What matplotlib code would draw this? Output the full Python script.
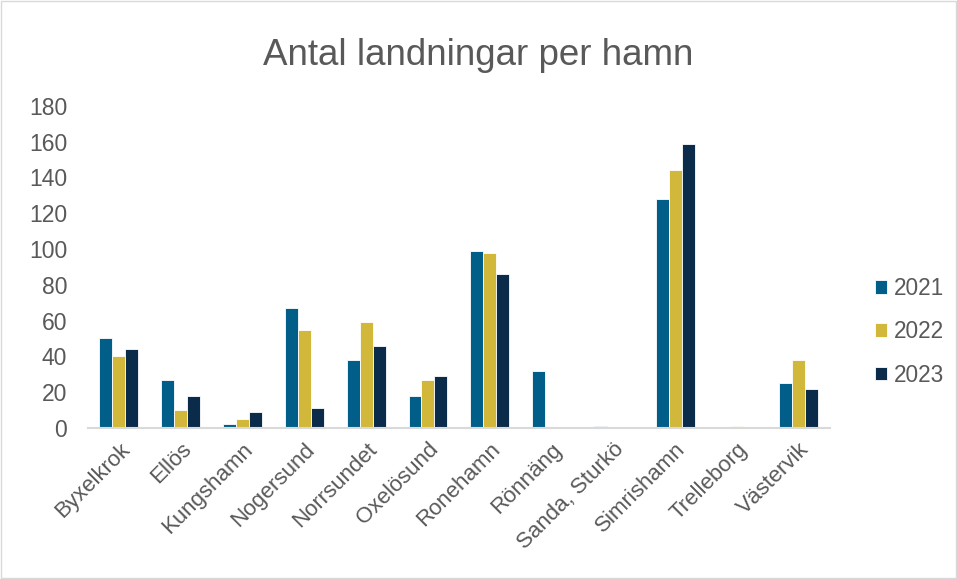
import matplotlib.pyplot as plt
import numpy as np
from matplotlib.patches import Rectangle

plt.rcParams['font.family'] = ['Liberation Sans', 'DejaVu Sans']

hamnar = ["Byxelkrok", "Ellös", "Kungshamn", "Nogersund", "Norrsundet", "Oxelösund",
          "Ronehamn", "Rönnäng", "Sanda, Sturkö", "Simrishamn", "Trelleborg", "Västervik"]
ar = ["2021", "2022", "2023"]
v2021 = [50, 27, 2, 67, 38, 18, 99, 32, 1, 128, 0, 25]
v2022 = [40, 10, 5, 55, 59, 27, 98, 0, 0, 144, 1, 38]
v2023 = [44, 18, 9, 11, 46, 29, 86, 0, 0, 159, 0, 22]
farger = ["#005E88", "#D1B73A", "#0A2B4A"]

fig = plt.figure(figsize=(9.57, 5.79), dpi=100)
ax = fig.add_axes([0.092, 0.261, 0.775, 0.556])

x = np.arange(len(hamnar))
w = 0.21
for i, (vals, c, lab) in enumerate(zip([v2021, v2022, v2023], farger, ar)):
    ax.bar(x + (i - 1) * w, vals, width=w, color=c, label=lab,
           edgecolor="white", linewidth=0.6)

ax.set_xlim(-0.5, len(hamnar) - 0.5)
ax.set_ylim(0, 180)
ax.set_yticks(range(0, 181, 20))
ax.set_xticks(x)
ax.set_xticklabels(hamnar, rotation=45, ha="right", rotation_mode="anchor")
ax.tick_params(axis="both", length=0, labelcolor="#595959")
ax.tick_params(axis="y", pad=15, labelsize=16.5)
ax.tick_params(axis="x", pad=8, labelsize=16)
for s in ["top", "right", "left"]:
    ax.spines[s].set_visible(False)
ax.spines["bottom"].set_color("#D9D9D9")
ax.spines["bottom"].set_linewidth(1.5)

fig.suptitle("Antal landningar per hamn", y=0.935, fontsize=26.5, color="#595959")

fig.legend(loc="center left", bbox_to_anchor=(0.893, 0.427), frameon=False,
           fontsize=16.3, labelcolor="#595959", handlelength=0.55, handleheight=0.55,
           handletextpad=0.3, labelspacing=0.9)

fig.patches.append(Rectangle((0.001, 0.001), 0.998, 0.998, transform=fig.transFigure,
                             fill=False, edgecolor="#D9D9D9", linewidth=1))

fig.savefig("out.png", dpi=100)
